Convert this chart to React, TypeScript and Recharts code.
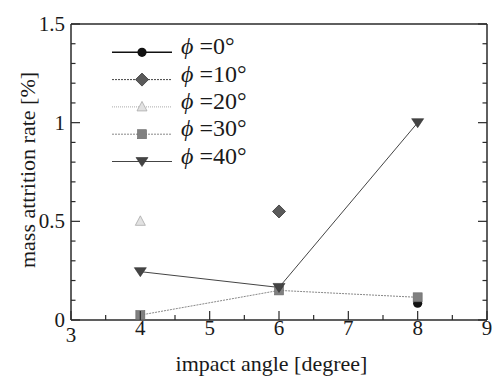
import { LineChart, Line, XAxis, YAxis, Legend } from 'recharts';

// values
const phiLabels = ['0', '10', '20', '30', '40'];
const angles0 = [8];
const rate0 = [0.085];
const angles10 = [6];
const rate10 = [0.55];
const angles20 = [4];
const rate20 = [0.5];
const angles30 = [4, 6, 8];
const rate30 = [0.025, 0.15, 0.115];
const angles40 = [4, 6, 8];
const rate40 = [0.245, 0.165, 1.0];

const xTicks = [3, 3.5, 4, 4.5, 5, 5.5, 6, 6.5, 7, 7.5, 8, 8.5, 9];
const yTicks = [0, 0.1, 0.2, 0.3, 0.4, 0.5, 0.6, 0.7, 0.8, 0.9, 1, 1.1, 1.2, 1.3, 1.4, 1.5];
const yMajor = [0, 0.5, 1, 1.5];

const FONT = 'Liberation Serif';
const AXIS = '#2a2a2a';
const INK = '#1a1a1a';

const zip = (xs: number[], ys: number[]) => xs.map((angle, i) => ({ angle, rate: ys[i] }));

const series = [
  { phi: phiLabels[0], data: zip(angles0, rate0), shape: 'circle', stroke: '#111', width: 1.6, dash: undefined },
  { phi: phiLabels[1], data: zip(angles10, rate10), shape: 'diamond', stroke: '#444', width: 1, dash: '2 1' },
  { phi: phiLabels[2], data: zip(angles20, rate20), shape: 'triUp', stroke: '#aaa', width: 1, dash: '1 1' },
  { phi: phiLabels[3], data: zip(angles30, rate30), shape: 'square', stroke: '#888', width: 1, dash: '2 1' },
  { phi: phiLabels[4], data: zip(angles40, rate40), shape: 'triDown', stroke: '#444', width: 1, dash: undefined },
];

function Marker({ shape, cx, cy }: { shape: string; cx: number; cy: number }) {
  if (shape === 'circle') return <circle cx={cx} cy={cy} r={4.6} fill="#111" />;
  if (shape === 'diamond')
    return <path d={`M${cx} ${cy - 6.5}L${cx + 6.5} ${cy}L${cx} ${cy + 6.5}L${cx - 6.5} ${cy}Z`} fill="#5a5a5a" stroke="#333" strokeWidth={0.8} />;
  if (shape === 'triUp')
    return <path d={`M${cx} ${cy - 5.5}L${cx + 5} ${cy + 4}L${cx - 5} ${cy + 4}Z`} fill="#e2e2e2" stroke="#aaa" strokeWidth={0.8} />;
  if (shape === 'square')
    return <rect x={cx - 4.5} y={cy - 4.5} width={9} height={9} fill="#808080" stroke="#666" strokeWidth={0.6} />;
  return <path d={`M${cx - 6} ${cy - 4}L${cx + 6} ${cy - 4}L${cx} ${cy + 5}Z`} fill="#444" stroke="#333" strokeWidth={0.6} />;
}

const isMajorX = (v: number) => Number.isInteger(v);
const isMajorY = (v: number) => yMajor.some((m) => Math.abs(m - v) < 1e-6);

function BottomTick({ x, y, payload }: any) {
  const v = payload.value;
  const major = isMajorX(v);
  return (
    <g>
      <line x1={x} y1={y} x2={x} y2={y - (major ? 9 : 5)} stroke={AXIS} strokeWidth={1.2} />
      {major && (
        <text x={x} y={y + (v === 3 ? 22 : 15)} textAnchor="middle" fontFamily={FONT} fontSize={21} fill={INK}>
          {String(v)}
        </text>
      )}
    </g>
  );
}

function TopTick({ x, y, payload }: any) {
  const major = isMajorX(payload.value);
  return <line x1={x} y1={y} x2={x} y2={y + (major ? 9 : 5)} stroke={AXIS} strokeWidth={1.2} />;
}

function LeftTick({ x, y, payload }: any) {
  const v = payload.value;
  const major = isMajorY(v);
  return (
    <g>
      <line x1={x} y1={y} x2={x + (major ? 9 : 4.5)} y2={y} stroke={AXIS} strokeWidth={1.2} />
      {major && (
        <text x={x - 6} y={y + 7} textAnchor="end" fontFamily={FONT} fontSize={21} fill={INK}>
          {String(v)}
        </text>
      )}
    </g>
  );
}

function RightTick({ x, y, payload }: any) {
  const major = isMajorY(payload.value);
  return <line x1={x} y1={y} x2={x - (major ? 9 : 4.5)} y2={y} stroke={AXIS} strokeWidth={1.2} />;
}

function LegendBox() {
  return (
    <svg width={494} height={378} style={{ position: 'absolute', left: 0, top: 0 }}>
      {series.map((s, i) => {
        const cy = 52.3 + i * 27.3;
        return (
          <g key={s.phi}>
            <line x1={112} y1={cy} x2={172} y2={cy} stroke={s.stroke} strokeWidth={s.width} strokeDasharray={s.dash} />
            <Marker shape={s.shape} cx={142} cy={cy} />
            <text x={181} y={cy + 2} fontFamily={FONT} fontSize={24} fill={INK}>
              <tspan fontStyle="italic">ϕ</tspan>
              {` =${s.phi}°`}
            </text>
          </g>
        );
      })}
    </svg>
  );
}

export default function App() {
  return (
    <div style={{ position: 'fixed', left: 0, top: 0, background: '#fff', fontFamily: FONT }}>
      <LineChart width={494} height={378} margin={{ top: 0, right: 0, bottom: 0, left: 0 }}>
        <XAxis
          dataKey="angle"
          type="number"
          domain={[3, 9]}
          ticks={xTicks}
          interval={0}
          allowDataOverflow
          height={58}
          tickSize={0}
          tickMargin={0}
          tickLine={false}
          axisLine={{ stroke: AXIS, strokeWidth: 1.5 }}
          tick={BottomTick}
          label={{
            content: () => (
              <text x={271.5} y={371} textAnchor="middle" fontFamily={FONT} fontSize={22} fill={INK}>
                impact angle [degree]
              </text>
            ),
          }}
        />
        <XAxis
          xAxisId="top"
          orientation="top"
          type="number"
          domain={[3, 9]}
          ticks={xTicks}
          interval={0}
          allowDataOverflow
          height={24}
          tickSize={0}
          tickMargin={0}
          tickLine={false}
          axisLine={{ stroke: AXIS, strokeWidth: 1.5 }}
          tick={TopTick}
        />
        <YAxis
          type="number"
          domain={[0, 1.5]}
          ticks={yTicks}
          interval={0}
          allowDataOverflow
          width={71}
          tickSize={0}
          tickMargin={0}
          tickLine={false}
          axisLine={{ stroke: AXIS, strokeWidth: 1.5 }}
          tick={LeftTick}
          label={{
            content: () => (
              <text transform="translate(35,170) rotate(-90)" textAnchor="middle" fontFamily={FONT} fontSize={22} fill={INK}>
                mass attrition rate [%]
              </text>
            ),
          }}
        />
        <YAxis
          yAxisId="right"
          orientation="right"
          type="number"
          domain={[0, 1.5]}
          ticks={yTicks}
          interval={0}
          allowDataOverflow
          width={7}
          tickSize={0}
          tickMargin={0}
          tickLine={false}
          axisLine={{ stroke: AXIS, strokeWidth: 1.5 }}
          tick={RightTick}
        />
        <Legend
          layout="horizontal"
          verticalAlign="middle"
          align="center"
          wrapperStyle={{ left: 0, top: 0, width: 494, height: 378, pointerEvents: 'none' }}
          content={() => <LegendBox />}
        />
        {series.map((s) => (
          <Line
            key={s.phi}
            data={s.data}
            dataKey="rate"
            type="linear"
            stroke={s.stroke}
            strokeWidth={s.width}
            strokeDasharray={s.dash}
            dot={(p: any) => <Marker key={`${s.phi}-${p.index}`} shape={s.shape} cx={p.cx} cy={p.cy} />}
            activeDot={false}
            isAnimationActive={false}
          />
        ))}
      </LineChart>
    </div>
  );
}
